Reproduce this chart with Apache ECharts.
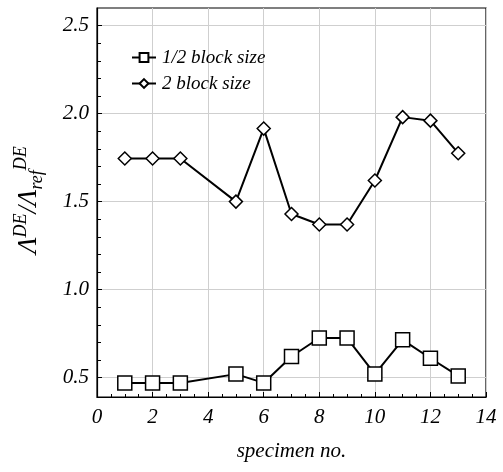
<!DOCTYPE html>
<html>
<head>
<meta charset="utf-8">
<script src="https://cdn.jsdelivr.net/npm/echarts@6/dist/echarts.min.js"></script>
<style>
html, body { margin: 0; padding: 0; background: #fff; }
#chart { width: 503px; height: 472px; }
</style>
</head>
<body>
<div id="chart"></div>
<script>
// specimen numbers
var specimens = [1, 2, 3, 5, 6, 7, 8, 9, 10, 11, 12, 13];
// 1/2 block size
var halfBlock = [0.47, 0.47, 0.47, 0.52, 0.47, 0.62, 0.725, 0.725, 0.52, 0.715, 0.61, 0.51];
// 2 block size
var twoBlock = [1.745, 1.745, 1.745, 1.50, 1.915, 1.43, 1.37, 1.37, 1.62, 1.98, 1.96, 1.775];
// ticks
var xMajor = [0, 2, 4, 6, 8, 10, 12, 14];
var xMinor = [0.5, 1, 1.5, 2.5, 3, 3.5, 4.5, 5, 5.5, 6.5, 7, 7.5, 8.5, 9, 9.5, 10.5, 11, 11.5, 12.5, 13, 13.5];
var yMajor = [0.5, 1.0, 1.5, 2.0, 2.5];
var yMinor = [0.6, 0.7, 0.8, 0.9, 1.1, 1.2, 1.3, 1.4, 1.6, 1.7, 1.8, 1.9, 2.1, 2.2, 2.3, 2.4];

function pairs(xs, ys) {
	var out = [];
	for (var i = 0; i < xs.length; i++) {
		out.push([xs[i], ys[i]]);
	}
	return out;
}

var font = '"Liberation Serif", "Times New Roman", serif';
var lblStyle = {
	fontFamily: font,
	fontStyle: 'italic',
	fontSize: 21,
	color: '#000'
};
var chart = echarts.init(document.getElementById('chart'));
chart.setOption({
	backgroundColor: '#fff',
	animation: false,
	grid: {
		left: 97,
		right: 17,
		top: 8,
		bottom: 75,
		show: true,
		borderColor: '#000',
		borderWidth: 1.2
	},
	legend: {
		orient: 'vertical',
		left: 126,
		top: 43,
		itemWidth: 24,
		itemHeight: 11,
		itemGap: 7,
		data: ['1/2 block size', '2 block size'],
		textStyle: {
			fontFamily: font,
			fontStyle: 'italic',
			fontSize: 19,
			color: '#000',
			padding: [0, 0, 0, 1]
		}
	},
	xAxis: [{
		type: 'value',
		min: 0,
		max: 14,
		name: 'specimen no.',
		nameLocation: 'middle',
		nameGap: 44,
		nameTextStyle: lblStyle,
		axisLine: { lineStyle: { color: '#000', width: 1.2 } },
		axisTick: { inside: true, length: 5, customValues: xMajor, lineStyle: { color: '#000' } },
		axisLabel: Object.assign({ customValues: xMajor, margin: 10 }, lblStyle),
		splitLine: { show: true, lineStyle: { color: '#cfcfcf', width: 1 } }
	}, {
		type: 'value',
		min: 0,
		max: 14,
		position: 'bottom',
		axisLine: { show: false },
		axisTick: { inside: true, length: 3, customValues: xMinor, lineStyle: { color: '#000' } },
		axisLabel: { show: false },
		splitLine: { show: false }
	}],
	yAxis: [{
		type: 'value',
		min: 0.39,
		max: 2.6,
		axisLine: { lineStyle: { color: '#000', width: 1.2 } },
		axisTick: { inside: true, length: 5, customValues: yMajor, lineStyle: { color: '#000' } },
		axisLabel: Object.assign({
			customValues: yMajor,
			margin: 8,
			formatter: function (v) { return v.toFixed(1); }
		}, lblStyle),
		splitLine: { show: true, lineStyle: { color: '#cfcfcf', width: 1 } }
	}, {
		type: 'value',
		min: 0.39,
		max: 2.6,
		position: 'left',
		axisLine: { show: false },
		axisTick: { inside: true, length: 4, customValues: yMinor, lineStyle: { color: '#000' } },
		axisLabel: { show: false },
		splitLine: { show: false }
	}],
	graphic: [{
		type: 'text',
		x: 29,
		y: 200,
		rotation: Math.PI / 2,
		style: {
			text: '{m|Λ}{p|DE}{m|/Λ}{b|ref}{p|DE}',
			align: 'center',
			verticalAlign: 'middle',
			rich: {
				m: { fontFamily: font, fontStyle: 'italic', fontSize: 27, lineHeight: 34, verticalAlign: 'middle', fill: '#000' },
				p: { fontFamily: font, fontStyle: 'italic', fontSize: 18, lineHeight: 34, verticalAlign: 'top', fill: '#000' },
				b: { fontFamily: font, fontStyle: 'italic', fontSize: 18, lineHeight: 34, verticalAlign: 'bottom', fill: '#000' }
			}
		}
	}],
	series: [{
		name: '1/2 block size',
		type: 'line',
		data: pairs(specimens, halfBlock),
		symbol: 'rect',
		symbolSize: 14,
		lineStyle: { color: '#000', width: 2 },
		itemStyle: { color: '#fff', borderColor: '#000', borderWidth: 1.5 }
	}, {
		name: '2 block size',
		type: 'line',
		data: pairs(specimens, twoBlock),
		symbol: 'diamond',
		symbolSize: 13,
		lineStyle: { color: '#000', width: 2 },
		itemStyle: { color: '#fff', borderColor: '#000', borderWidth: 1.5 }
	}]
});
</script>
</body>
</html>
